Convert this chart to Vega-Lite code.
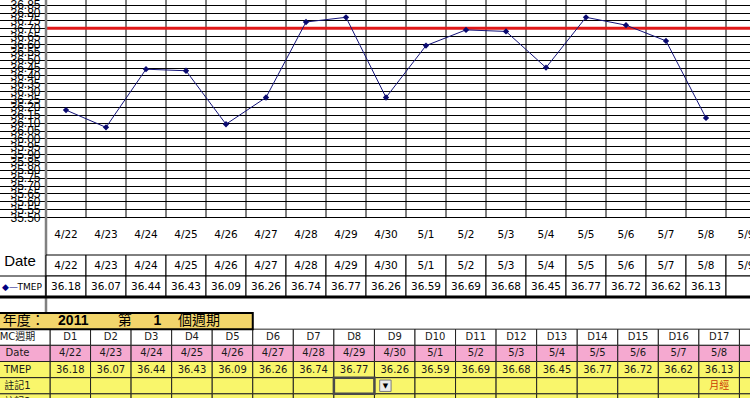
{
  "$schema": "https://vega.github.io/schema/vega-lite/v6.json",
  "width": 704,
  "height": 398,
  "autosize": {"type": "none"},
  "padding": {"left": 46, "top": 0, "right": 0, "bottom": 0},
  "background": "#ffffff",
  "config": {"view": {"stroke": null}},
  "datasets": {
    "days": [
      {"date": "4/22", "d": "D1", "temp": 36.18, "note": "", "note2": ""},
      {"date": "4/23", "d": "D2", "temp": 36.07, "note": "", "note2": ""},
      {"date": "4/24", "d": "D3", "temp": 36.44, "note": "", "note2": ""},
      {"date": "4/25", "d": "D4", "temp": 36.43, "note": "", "note2": ""},
      {"date": "4/26", "d": "D5", "temp": 36.09, "note": "", "note2": ""},
      {"date": "4/27", "d": "D6", "temp": 36.26, "note": "", "note2": ""},
      {"date": "4/28", "d": "D7", "temp": 36.74, "note": "", "note2": ""},
      {"date": "4/29", "d": "D8", "temp": 36.77, "note": "", "note2": ""},
      {"date": "4/30", "d": "D9", "temp": 36.26, "note": "", "note2": ""},
      {"date": "5/1", "d": "D10", "temp": 36.59, "note": "", "note2": ""},
      {"date": "5/2", "d": "D11", "temp": 36.69, "note": "", "note2": ""},
      {"date": "5/3", "d": "D12", "temp": 36.68, "note": "", "note2": ""},
      {"date": "5/4", "d": "D13", "temp": 36.45, "note": "", "note2": ""},
      {"date": "5/5", "d": "D14", "temp": 36.77, "note": "", "note2": ""},
      {"date": "5/6", "d": "D15", "temp": 36.72, "note": "", "note2": ""},
      {"date": "5/7", "d": "D16", "temp": 36.62, "note": "", "note2": ""},
      {"date": "5/8", "d": "D17", "temp": 36.13, "note": "月經", "note2": ""},
      {"date": "5/9", "d": "D18", "temp": null, "note": "", "note2": ""}
    ],
    "coverline": [{"cover": 36.7}],
    "rowsC": [
      {"key": "d", "label": "MC週期"},
      {"key": "date", "label": "Date"},
      {"key": "temp", "label": "TMEP"},
      {"key": "note", "label": "註記1"},
      {"key": "note2", "label": "註記2"}
    ],
    "one": [{}]
  },
  "data": {"name": "days"},
  "resolve": {"scale": {"x": "independent", "y": "independent"}},
  "layer": [
    {
      "layer": [
        {
          "mark": {"type": "rule", "color": "#000000", "strokeWidth": 1},
          "encoding": {
            "x": {
              "field": "date", "type": "nominal", "bandPosition": 0,
              "scale": {"type": "band", "domain": ["lbl0", "lbl", "4/22", "4/23", "4/24", "4/25", "4/26", "4/27", "4/28", "4/29", "4/30", "5/1", "5/2", "5/3", "5/4", "5/5", "5/6", "5/7", "5/8", "5/9"], "range": [-80, 720], "paddingInner": 0, "paddingOuter": 0},
              "axis": {"orient": "bottom", "offset": -181, "values": ["4/22", "4/23", "4/24", "4/25", "4/26", "4/27", "4/28", "4/29", "4/30", "5/1", "5/2", "5/3", "5/4", "5/5", "5/6", "5/7", "5/8", "5/9"], "labelFont": "DejaVu Sans", "labelFontSize": 10.5, "labelColor": "#000000", "labelPadding": 12, "ticks": false, "domain": false, "grid": false, "title": null, "labelAngle": 0, "labelOverlap": false}
            },
            "y": {
              "datum": 35.5, "type": "quantitative",
              "scale": {"domain": [35.5, 36.88], "range": [217, 0], "zero": false, "nice": false},
              "axis": {"orient": "left", "values": [35.5, 35.55, 35.6, 35.65, 35.7, 35.75, 35.8, 35.85, 35.9, 35.95, 36, 36.05, 36.1, 36.15, 36.2, 36.25, 36.3, 36.35, 36.4, 36.45, 36.5, 36.55, 36.6, 36.65, 36.7, 36.75, 36.8, 36.85], "tickCount": 28, "format": ".2f", "labelFont": "Liberation Sans", "labelFontSize": 12, "labelColor": "#000000", "labelPadding": 6, "ticks": false, "domain": false, "grid": true, "gridColor": "#000000", "gridWidth": 1, "gridOpacity": 1, "title": null, "labelOverlap": false, "labelFlush": false, "labelBound": false}
            },
            "y2": {"datum": 36.88}
          }
        },
        {
          "data": {"name": "coverline"},
          "mark": {"type": "rule", "color": "#e01818", "strokeWidth": 3},
          "encoding": {"y": {"field": "cover", "type": "quantitative"}}
        },
        {
          "transform": [{"filter": "isValid(datum.temp)"}],
          "mark": {"type": "line", "color": "#14147a", "strokeWidth": 1, "point": {"shape": "diamond", "filled": true, "size": 40, "color": "#0a0a70"}},
          "encoding": {
            "x": {"field": "date", "type": "nominal"},
            "y": {"field": "temp", "type": "quantitative"}
          }
        },
        {
          "data": {"name": "one"},
          "mark": {"type": "rule", "color": "#808080", "strokeWidth": 2.5},
          "encoding": {"x": {"datum": "4/22", "bandPosition": 0}}
        }
      ]
    },
    {
      "layer": [
        {
          "transform": [{"fold": ["date", "temp"], "as": ["key", "value"]}],
          "mark": {"type": "rect", "fill": "#ffffff", "stroke": "#000000", "strokeWidth": 1},
          "encoding": {
            "x": {
              "field": "date", "type": "nominal",
              "scale": {"type": "band", "domain": ["lbl0", "lbl", "4/22", "4/23", "4/24", "4/25", "4/26", "4/27", "4/28", "4/29", "4/30", "5/1", "5/2", "5/3", "5/4", "5/5", "5/6", "5/7", "5/8", "5/9"], "range": [-80, 720], "paddingInner": 0, "paddingOuter": 0},
              "axis": null
            },
            "y": {
              "field": "key", "type": "nominal",
              "scale": {"type": "band", "domain": ["date", "temp"], "range": [255, 297], "paddingInner": 0, "paddingOuter": 0},
              "axis": null
            }
          }
        },
        {
          "transform": [{"fold": ["date", "temp"], "as": ["key", "value"]}, {"filter": "isValid(datum.value)"}],
          "mark": {"type": "text", "font": "DejaVu Sans", "fontSize": 10.5, "color": "#000000"},
          "encoding": {
            "x": {"field": "date", "type": "nominal"},
            "y": {"field": "key", "type": "nominal"},
            "text": {"field": "value"}
          }
        },
        {
          "data": {"name": "one"},
          "mark": {"type": "rect", "fill": "transparent", "stroke": "#000000", "strokeWidth": 1},
          "encoding": {
            "x": {"datum": "lbl0", "bandPosition": 0},
            "x2": {"datum": "4/22", "bandPosition": 0},
            "y": {"datum": "temp"}
          }
        },
        {
          "data": {"values": [{"t": "Date"}]},
          "mark": {"type": "text", "font": "Liberation Sans", "fontSize": 15, "dx": -6, "dy": -5, "color": "#000000"},
          "encoding": {"x": {"datum": "lbl"}, "y": {"datum": "date"}, "text": {"field": "t"}}
        },
        {
          "data": {"values": [{"t": "◆—"}]},
          "mark": {"type": "text", "font": "DejaVu Sans", "fontSize": 9, "align": "left", "dx": -4, "color": "#000080"},
          "encoding": {"x": {"datum": "lbl", "bandPosition": 0}, "y": {"datum": "temp"}, "text": {"field": "t"}}
        },
        {
          "data": {"values": [{"t": "TMEP"}]},
          "mark": {"type": "text", "font": "DejaVu Sans", "fontSize": 9, "align": "right", "dx": -4, "color": "#000000"},
          "encoding": {"x": {"datum": "lbl", "bandPosition": 1}, "y": {"datum": "temp"}, "text": {"field": "t"}}
        },
        {
          "data": {"name": "one"},
          "mark": {"type": "rule", "color": "#000000", "strokeWidth": 3},
          "encoding": {
            "x": {"datum": "lbl0", "bandPosition": 0},
            "x2": {"datum": "5/9", "bandPosition": 1},
            "y": {"datum": "temp", "bandPosition": 1}
          }
        }
      ]
    },
    {
      "layer": [
        {
          "transform": [{"fold": ["d", "date", "temp", "note", "note2"], "as": ["key", "value"]}],
          "mark": {"type": "rect", "stroke": "#222222", "strokeWidth": 1},
          "encoding": {
            "x": {
              "field": "d", "type": "nominal",
              "scale": {"type": "band", "domain": ["lbl0", "lbl", "D1", "D2", "D3", "D4", "D5", "D6", "D7", "D8", "D9", "D10", "D11", "D12", "D13", "D14", "D15", "D16", "D17", "D18"], "range": [-77.12, 734], "paddingInner": 0, "paddingOuter": 0},
              "axis": null
            },
            "y": {
              "field": "key", "type": "nominal",
              "scale": {"type": "band", "domain": ["year", "d", "date", "temp", "note", "note2"], "range": [313, 410], "paddingInner": 0, "paddingOuter": 0},
              "axis": null
            },
            "fill": {
              "field": "key", "type": "nominal",
              "scale": {"domain": ["d", "date", "temp", "note", "note2"], "range": ["#ffffff", "#f5a9d0", "#f9f66b", "#f9f66b", "#f9f66b"]},
              "legend": null
            }
          }
        },
        {
          "data": {"name": "rowsC"},
          "mark": {"type": "rect", "stroke": "#222222", "strokeWidth": 1},
          "encoding": {
            "x": {"datum": "lbl0", "bandPosition": 0},
            "x2": {"datum": "D1", "bandPosition": 0},
            "y": {"field": "key", "type": "nominal"},
            "fill": {"field": "key", "type": "nominal", "legend": null}
          }
        },
        {
          "data": {"name": "one"},
          "mark": {"type": "rect", "fill": "#f2d56b", "stroke": "#000000", "strokeWidth": 2},
          "encoding": {
            "x": {"datum": "lbl0", "bandPosition": 0},
            "x2": {"datum": "D6", "bandPosition": 0},
            "y": {"datum": "year"}
          }
        },
        {
          "transform": [{"fold": ["d", "date", "temp", "note", "note2"], "as": ["key", "value"]}, {"filter": "isValid(datum.value) && datum.value !== '' && datum.d !== 'D18'"}],
          "mark": {"type": "text", "font": "DejaVu Sans, 'Noto Sans CJK TC'", "fontSize": 10},
          "encoding": {
            "x": {"field": "d", "type": "nominal"},
            "y": {"field": "key", "type": "nominal"},
            "text": {"field": "value"},
            "color": {"condition": {"test": "datum.key === 'note'", "value": "#cc3a00"}, "value": "#1a1a1a"}
          }
        },
        {
          "data": {"name": "rowsC"},
          "mark": {"type": "text", "font": "DejaVu Sans, 'Noto Sans CJK TC'", "fontSize": 10, "color": "#1a1a1a"},
          "encoding": {
            "x": {"datum": "lbl", "bandPosition": 0.2},
            "y": {"field": "key", "type": "nominal"},
            "text": {"field": "label"}
          }
        },
        {
          "data": {"values": [{"t": "年度："}]},
          "mark": {"type": "text", "font": "Noto Sans CJK TC", "fontSize": 14, "dx": -6, "color": "#000000"},
          "encoding": {"x": {"datum": "lbl"}, "y": {"datum": "year"}, "text": {"field": "t"}}
        },
        {
          "data": {"values": [{"t": "2011"}]},
          "mark": {"type": "text", "font": "Liberation Sans", "fontWeight": "bold", "fontSize": 14, "dx": 3, "color": "#000000"},
          "encoding": {"x": {"datum": "D1"}, "y": {"datum": "year"}, "text": {"field": "t"}}
        },
        {
          "data": {"values": [{"t": "第"}]},
          "mark": {"type": "text", "font": "Noto Sans CJK TC", "fontSize": 14, "dx": 14, "color": "#000000"},
          "encoding": {"x": {"datum": "D2"}, "y": {"datum": "year"}, "text": {"field": "t"}}
        },
        {
          "data": {"values": [{"t": "1"}]},
          "mark": {"type": "text", "font": "Liberation Sans", "fontWeight": "bold", "fontSize": 14, "dx": 6, "color": "#000000"},
          "encoding": {"x": {"datum": "D3"}, "y": {"datum": "year"}, "text": {"field": "t"}}
        },
        {
          "data": {"values": [{"t": "個週期"}]},
          "mark": {"type": "text", "font": "Noto Sans CJK TC", "fontSize": 14, "dx": 7, "color": "#000000"},
          "encoding": {"x": {"datum": "D4"}, "y": {"datum": "year"}, "text": {"field": "t"}}
        },
        {
          "data": {"name": "one"},
          "mark": {"type": "rect", "fill": "transparent", "stroke": "#4a4a4a", "strokeWidth": 2.5},
          "encoding": {"x": {"datum": "D8"}, "y": {"datum": "note"}}
        },
        {
          "data": {"name": "one"},
          "mark": {"type": "point", "shape": "square", "size": 130, "filled": true, "fill": "#ececec", "stroke": "#7a7a7a", "strokeWidth": 1, "opacity": 1},
          "encoding": {"x": {"datum": "D9", "bandPosition": 0.27}, "y": {"datum": "note"}}
        },
        {
          "data": {"values": [{"t": "▼"}]},
          "mark": {"type": "text", "font": "DejaVu Sans", "fontSize": 7, "color": "#000000"},
          "encoding": {"x": {"datum": "D9", "bandPosition": 0.27}, "y": {"datum": "note"}, "text": {"field": "t"}}
        }
      ]
    }
  ]
}
